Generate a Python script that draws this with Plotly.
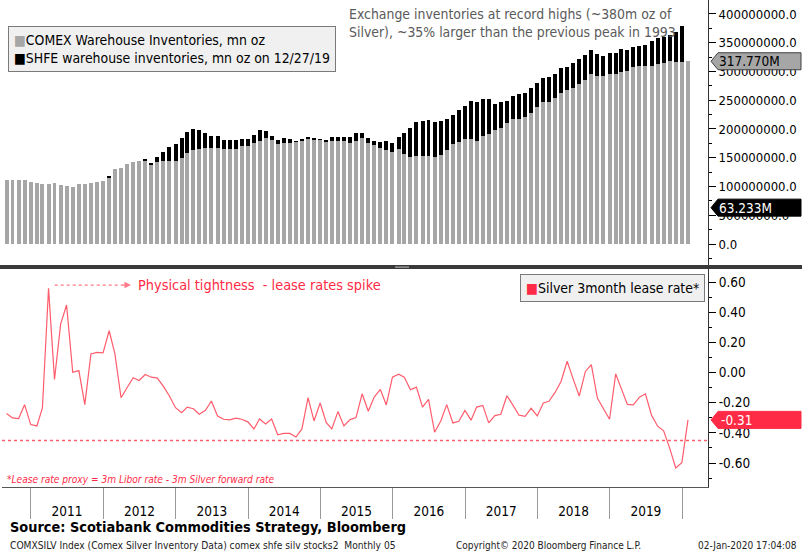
import plotly.graph_objects as go
import pandas as pd

# ---------------- data ----------------
dates = pd.date_range("2010-08-31", periods=114, freq="ME").strftime("%Y-%m-%d").tolist()

comex_mn = [110.7, 110.7, 111.8, 111.8, 107.8, 105.5, 103.8, 103.8, 105.5, 102.6,
            100.9, 98.6, 104.9, 103.8, 106.7, 108.4, 109.6, 116.5, 130.4, 131.6,
            139.7, 142.6, 143.8, 145.5, 138.6, 142.0, 143.8, 143.8, 143.8, 150.1,
            158.3, 164.0, 165.2, 167.0, 167.0, 167.0, 165.2, 165.0, 164.6, 169.9,
            171.0, 175.1, 179.7, 183.8, 180.3, 173.4, 176.2, 176.2, 177.4, 180.3,
            182.0, 180.9, 180.9, 178.6, 179.7, 179.7, 179.1, 175.1, 179.7, 183.8,
            176.2, 172.2, 166.4, 163.5, 159.4, 165.2, 156.0, 151.9, 153.6, 153.0,
            153.6, 151.3, 154.8, 163.5, 174.5, 177.0, 182.0, 182.6, 179.1, 188.4,
            191.3, 197.7, 202.3, 211.0, 216.8, 217.4, 220.3, 227.2, 238.3, 246.4,
            247.5, 253.3, 263.2, 267.2, 271.3, 277.7, 285.2, 295.7, 292.2, 292.8,
            295.1, 295.1, 299.7, 300.9, 307.2, 309.6, 309.0, 309.0, 312.5, 314.2,
            317.7, 316.0, 316.0, 317.77]

shfe_mn = [None] * 17 + [1.7] + [None] * 5 + [2.3, 1.1,
           9.3, 15.6, 24.9, 30.1, 34.2,
           36.5, 36.0, 33.6, 25.5, 21.4, 20.2, 15.7, 15.0, 15.7, 12.1,
           12.2, 13.9, 18.6, 13.3, 7.5, 7.5, 7.6, 6.4, 1.2, 1.1,
           3.5, 4.0, 1.7, 2.3, 5.8, 7.0, 7.6, 11.6, 12.8, 9.8,
           8.1, 6.9, 11.0, 16.2, 16.3, 21.5, 36.5, 49.3, 58.0, 61.5,
           61.5, 61.5, 58.5, 53.3, 49.8, 56.0, 58.0, 66.1, 68.4, 63.2,
           60.9, 46.3, 45.2, 37.7, 41.2, 43.5, 41.7, 43.5, 41.1, 41.7,
           43.5, 42.9, 43.5, 41.2, 44.1, 44.6, 43.5, 41.1, 38.2, 34.7,
           36.5, 37.7, 40.0, 37.1, 35.4, 35.3, 36.5, 43.5, 45.2, 45.2,
           45.8, 52.1, 63.233, None]

lease_rate = [-0.272, -0.301, -0.305, -0.213, -0.345, -0.354, -0.235, 0.558, -0.046, 0.321,
              0.448, 0.002, 0.013, -0.213, 0.123, 0.134, 0.130, 0.277, 0.123, -0.167,
              -0.101, -0.035, -0.053, -0.013, -0.031, -0.037, -0.092, -0.156, -0.233, -0.266,
              -0.229, -0.240, -0.277, -0.250, -0.189, -0.288, -0.310, -0.314, -0.303, -0.310,
              -0.327, -0.374, -0.308, -0.341, -0.308, -0.413, -0.404, -0.404, -0.428, -0.374,
              -0.167, -0.321, -0.202, -0.332, -0.374, -0.259, -0.354, -0.312, -0.299, -0.141,
              -0.257, -0.163, -0.112, -0.215, -0.031, -0.011, -0.031, -0.114, -0.097, -0.229,
              -0.178, -0.396, -0.321, -0.213, -0.334, -0.323, -0.252, -0.316, -0.229, -0.218,
              -0.334, -0.286, -0.277, -0.154, -0.218, -0.283, -0.290, -0.237, -0.288, -0.202,
              -0.191, -0.132, -0.059, 0.075, -0.042, -0.156, 0.007, 0.053, -0.171, -0.240,
              -0.310, -0.009, -0.101, -0.211, -0.215, -0.163, -0.141, -0.283, -0.356, -0.387,
              -0.503, -0.633, -0.598, -0.314]

lease_ref_level = -0.45
inv_tick_vals = [0, 50e6, 100e6, 150e6, 200e6, 250e6, 300e6, 350e6, 400e6]
inv_minor_vals = [-25e6, 25e6, 75e6, 125e6, 175e6, 225e6, 275e6, 325e6, 375e6, 425e6]
rate_tick_vals = [-0.6, -0.4, -0.2, 0.0, 0.2, 0.4, 0.6]
rate_minor_vals = [-0.7, -0.5, -0.3, -0.1, 0.1, 0.3, 0.5, 0.7]

# ---------------- layout helpers ----------------
W, H = 802, 556
ML, MR, MT, MB = 2, 94, 0, 69
PW, PH = W - ML - MR, H - MT - MB
FONT = "DejaVu Sans Condensed, DejaVu Sans, Liberation Sans, sans-serif"
RED = "#ff2a45"
LINE_RED = "#ff5c6c"
GRAY_BAR = "#a6a6a6"


def px(x):
    return (x - ML) / PW


def py(y):
    return (H - MB - y) / PH


comex_last = comex_mn[-1]
shfe_last = [v for v in shfe_mn if v is not None][-1]
lease_last = lease_rate[-1]

fig = go.Figure()
fig.add_trace(go.Bar(x=dates, y=[v * 1e6 for v in comex_mn], name="COMEX Warehouse Inventories, mn oz",
                     marker=dict(color=GRAY_BAR, line=dict(width=0)), width=20 * 86400000,
                     xaxis="x", yaxis="y", showlegend=False))
fig.add_trace(go.Bar(x=dates, y=[None if v is None else v * 1e6 for v in shfe_mn],
                     name="SHFE warehouse inventories, mn oz on 12/27/19",
                     marker=dict(color="#000000", line=dict(width=0)), width=20 * 86400000,
                     xaxis="x", yaxis="y", showlegend=False))
fig.add_trace(go.Scatter(x=dates, y=lease_rate, mode="lines", name="Silver 3month lease rate*",
                         line=dict(color=LINE_RED, width=1.2), xaxis="x2", yaxis="y2", showlegend=False))

xrange = ["2010-08-08", "2020-05-11"]
axis_font = dict(family=FONT, size=13, color="#000000")

fig.update_layout(
    width=W, height=H, margin=dict(l=ML, r=MR, t=MT, b=MB),
    paper_bgcolor="white", plot_bgcolor="white", barmode="stack", bargap=0,
    font=dict(family=FONT, size=13, color="#000000"),
    xaxis=dict(domain=[0, 1], anchor="y", type="date", range=xrange, showticklabels=False,
               showline=False, ticks="", showgrid=False, zeroline=False),
    xaxis2=dict(domain=[0, 1], anchor="y2", type="date", range=xrange, matches="x",
                showline=True, linecolor="#555555", linewidth=1, showgrid=False, zeroline=False,
                ticks="outside", ticklen=31, tickwidth=1, tickcolor="#9a9a9a",
                dtick="M12", tick0="2011-01-01", ticklabelmode="period", tickformat="%Y",
                ticklabelstandoff=-19, tickfont=dict(family=FONT, size=13.5, color="#000000")),
    yaxis=dict(domain=[py(265), 1], anchor="x", side="right", range=[-36.5e6, 424.3e6],
               tickmode="array", tickvals=inv_tick_vals, ticktext=[f"{v:.1f}" for v in inv_tick_vals],
               showline=True, linecolor="#333333", linewidth=1, ticks="outside", ticklen=7,
               tickcolor="#000000", showgrid=False, zeroline=False, tickfont=axis_font,
               minor=dict(tickmode="array", tickvals=inv_minor_vals, ticks="outside", ticklen=3,
                          tickcolor="#000000", showgrid=False)),
    yaxis2=dict(domain=[0, py(268)], anchor="x2", side="right", range=[-0.759, 0.693],
                tickmode="array", tickvals=rate_tick_vals, ticktext=[f"{v:.2f}" for v in rate_tick_vals],
                showline=True, linecolor="#333333", linewidth=1, ticks="outside", ticklen=7,
                tickcolor="#000000", showgrid=False, zeroline=False,
                tickfont=dict(family=FONT, size=13.5, color="#000000"),
                minor=dict(tickmode="array", tickvals=rate_minor_vals, ticks="outside", ticklen=3,
                           tickcolor="#000000", showgrid=False)),
)

FLAG = "M 3 0 L 10 8.5 L 93 8.5 L 93 -8.5 L 10 -8.5 Z"
shapes = [
    # panel separator
    dict(type="rect", xref="paper", yref="paper", x0=px(0), x1=px(802), y0=py(269), y1=py(265),
         fillcolor="#3a3a3a", line=dict(width=0), layer="above"),
    dict(type="rect", xref="paper", yref="paper", x0=px(395), x1=px(409), y0=py(268), y1=py(266.3),
         fillcolor="#8c8c8c", line=dict(width=0), layer="above"),
    # reference level in lower panel
    dict(type="line", xref="x2 domain", yref="y2", x0=0, x1=1, y0=lease_ref_level, y1=lease_ref_level,
         line=dict(color=LINE_RED, width=1.5, dash="dot")),
    # dotted arrow shaft
    dict(type="line", xref="x2", yref="y2", x0="2011-05-01", x1="2012-05-10", y0=0.58, y1=0.58,
         line=dict(color="#ff7a88", width=1.3, dash="dot")),
    # last value flags
    dict(type="path", xref="paper", xsizemode="pixel", xanchor=1, yref="y", ysizemode="pixel",
         yanchor=comex_last * 1e6, path=FLAG,
         fillcolor=GRAY_BAR, line=dict(color="#404040", width=1), layer="above"),
    dict(type="path", xref="paper", xsizemode="pixel", xanchor=1, yref="y", ysizemode="pixel",
         yanchor=shfe_last * 1e6, path=FLAG,
         fillcolor="#000000", line=dict(color="#000000", width=1), layer="above"),
    dict(type="path", xref="paper", xsizemode="pixel", xanchor=1, yref="y2", ysizemode="pixel",
         yanchor=lease_last, path=FLAG,
         fillcolor=RED, line=dict(color=RED, width=1), layer="above"),
]
fig.update_layout(shapes=shapes)

ann = [
    dict(xref="paper", yref="paper", x=px(347), y=py(4), xanchor="left", yanchor="top", align="left",
         showarrow=False, font=dict(family=FONT, size=13.9, color="#5a5a5a"),
         text="Exchange inventories at record highs (~380m oz of<br>"
              "Silver), ~35% larger than the previous peak in 1993"),
    dict(xref="paper", yref="paper", x=px(8), y=py(26), xanchor="left", yanchor="top", align="left",
         showarrow=False, font=dict(family=FONT, size=13.9, color="#000000"),
         bgcolor="#f0f0f0", bordercolor="#7a7a7a", borderwidth=1, borderpad=5,
         text=f"<span style='color:{GRAY_BAR}'>■</span>COMEX Warehouse Inventories, mn oz<br>"
              "<span style='color:#000000'>■</span>SHFE warehouse inventories, mn oz on 12/27/19"),
    dict(xref="paper", yref="paper", x=px(705), y=py(274), xanchor="right", yanchor="top", align="left",
         showarrow=False, font=dict(family=FONT, size=14, color="#000000"),
         bgcolor="#f0f0f0", bordercolor="#7a7a7a", borderwidth=1, borderpad=5,
         text=f"<span style='color:{RED}'>■</span>Silver 3month lease rate*"),
    dict(xref="x2", yref="y2", x="2012-05-20", y=0.58, ax=-10, ay=0, text="", showarrow=True,
         arrowhead=2, arrowsize=1.3, arrowwidth=1, arrowcolor="#ff7a88", standoff=0),
    dict(xref="x2", yref="y2", x="2012-06-15", y=0.58, xanchor="left", yanchor="middle",
         showarrow=False, font=dict(family=FONT, size=14.4, color=RED),
         text="Physical tightness&nbsp; - lease rates spike"),
    dict(xref="paper", yref="paper", x=px(5), y=py(479), xanchor="left", yanchor="middle",
         showarrow=False, font=dict(family=FONT, size=10.1, color=RED),
         text="<i>*Lease rate proxy = 3m Libor rate - 3m Silver forward rate</i>"),
    dict(xref="paper", yref="paper", x=px(8), y=py(527), xanchor="left", yanchor="middle",
         showarrow=False, font=dict(family=FONT, size=14.4, color="#000000"),
         text="<b>Source: Scotiabank Commodities Strategy, Bloomberg</b>"),
    dict(xref="paper", yref="paper", x=px(8), y=py(545), xanchor="left", yanchor="middle",
         showarrow=False, font=dict(family=FONT, size=10.2, color="#222222"),
         text="COMXSILV Index (Comex Silver Inventory Data) comex shfe silv stocks2&nbsp; Monthly 05"),
    dict(xref="paper", yref="paper", x=px(454), y=py(545), xanchor="left", yanchor="middle",
         showarrow=False, font=dict(family=FONT, size=10, color="#222222"),
         text="Copyright© 2020 Bloomberg Finance L.P."),
    dict(xref="paper", yref="paper", x=px(799), y=py(545), xanchor="right", yanchor="middle",
         showarrow=False, font=dict(family=FONT, size=10, color="#222222"),
         text="02-Jan-2020 17:04:08"),
    dict(xref="paper", yref="y", x=1, y=comex_last * 1e6, xanchor="left", yanchor="middle", xshift=9,
         showarrow=False, font=dict(family=FONT, size=13.5, color="#000000"), text=f"{comex_last:.3f}M"),
    dict(xref="paper", yref="y", x=1, y=shfe_last * 1e6, xanchor="left", yanchor="middle", xshift=9,
         showarrow=False, font=dict(family=FONT, size=13.5, color="#ffffff"), text=f"{shfe_last:.3f}M"),
    dict(xref="paper", yref="y2", x=1, y=lease_last, xanchor="left", yanchor="middle", xshift=11,
         showarrow=False, font=dict(family=FONT, size=13.5, color="#ffffff"), text=f"{lease_last:.2f}"),
]
fig.update_layout(annotations=ann)

fig.write_html("out.html", config={"displayModeBar": False},
               post_script="document.body.style.margin='0';document.body.style.overflow='hidden';")
